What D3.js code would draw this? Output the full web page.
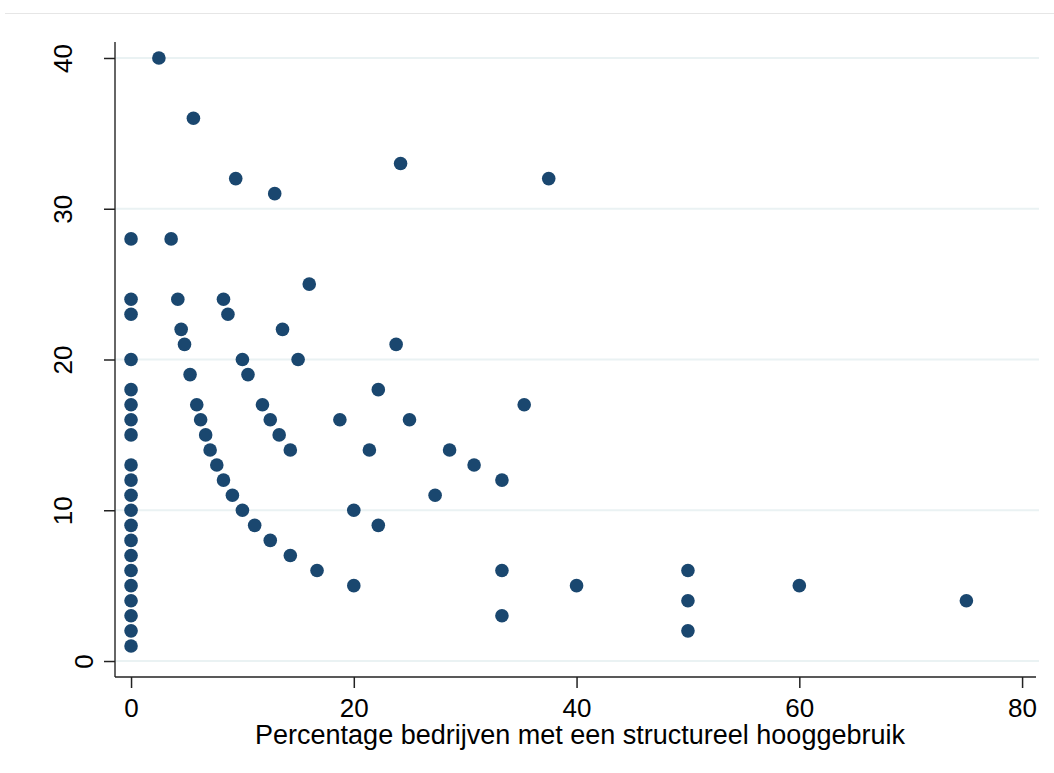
<!DOCTYPE html>
<html><head><meta charset="utf-8">
<script src="https://cdn.jsdelivr.net/npm/d3@7"></script>
<style>body{margin:0;background:#fff}svg{display:block}</style>
</head><body>
<script>
// Percentage of firms with structural high use (x) vs count (y)
const xValues = [
  0,0,0,0,0,0,0,0,0,0,0,0,0,0,0,0,0,0,0,0,0,
  2.5,5.6,9.4,12.9,24.2,37.5,3.6,16,4.2,8.3,8.7,4.5,13.6,4.8,23.8,10,15,5.3,10.5,22.2,
  5.9,11.8,35.3,6.25,12.5,18.75,25,6.7,13.3,7.1,14.3,21.4,28.6,7.7,30.8,8.3,33.3,9.1,27.3,
  10,20,11.1,22.2,12.5,14.3,16.7,33.3,50,20,40,60,33.3,50,75,50
];
const yValues = [
  1,2,3,4,5,6,7,8,9,10,11,12,13,15,16,17,18,20,23,24,28,
  40,36,32,31,33,32,28,25,24,24,23,22,22,21,21,20,20,19,19,18,
  17,17,17,16,16,16,16,15,15,14,14,14,14,13,13,12,12,11,11,
  10,10,9,9,8,7,6,6,6,5,5,5,3,4,4,2
];
const xTicks = [0,20,40,60,80];
const yTicks = [0,10,20,30,40];
const xTitle = "Percentage bedrijven met een structureel hooggebruik";

const W = 1054, H = 773;
const FONT = "Liberation Sans, Arial, sans-serif";
const svg = d3.select("body").append("svg").attr("width", W).attr("height", H);

const x = d3.scaleLinear().domain([-1.44, 81.25]).range([115, 1036]);
const y = d3.scaleLinear().domain([-1.06, 41.06]).range([677, 42]);

// faint title remnant (cut off at the top in the original) and top separator
svg.append("text").attr("x", 500).attr("y", -10).attr("font-family", FONT)
  .attr("font-size", 20).attr("font-style", "italic").attr("text-anchor", "middle").attr("fill", "#000").text("p");
svg.append("line").attr("x1", 5).attr("x2", W).attr("y1", 13.5).attr("y2", 13.5)
  .attr("stroke", "#e6e6e6").attr("stroke-width", 1);

// gridlines
svg.append("g").selectAll("line").data(yTicks).join("line")
  .attr("x1", 116).attr("x2", 1039)
  .attr("y1", d => y(d)).attr("y2", d => y(d))
  .attr("stroke", "#eaf2f3").attr("stroke-width", 2);

// axes
const yAxis = d3.axisLeft(y).tickValues(yTicks).tickSize(11);
const gy = svg.append("g").attr("transform", "translate(115,0)").call(yAxis);
gy.select(".domain").attr("d", `M0,42V677`).attr("stroke", "#333").attr("stroke-width", 1.5);
gy.selectAll(".tick line").attr("stroke", "#222").attr("stroke-width", 1.5);
gy.selectAll(".tick text")
  .attr("font-family", FONT).attr("font-size", 26).attr("fill", "#000")
  .attr("text-anchor", "middle").attr("dy", 0).attr("x", 0).attr("y", 0)
  .attr("transform", d => `translate(${d === 0 ? -22 : -43},0) rotate(-90)`);

const xAxis = d3.axisBottom(x).tickValues(xTicks).tickSize(11).tickPadding(11);
const gx = svg.append("g").attr("transform", "translate(0,677)").call(xAxis);
gx.select(".domain").attr("d", `M115,0H1036`).attr("stroke", "#222").attr("stroke-width", 1.5);
gx.selectAll(".tick line").attr("stroke", "#222").attr("stroke-width", 1.5);
gx.selectAll(".tick text")
  .attr("font-family", FONT).attr("font-size", 26).attr("fill", "#000");

svg.append("text").attr("x", 580).attr("y", 744).attr("text-anchor", "middle")
  .attr("font-family", FONT).attr("font-size", 27).attr("fill", "#000")
  .text(xTitle);

// points
const pts = xValues.map((v, i) => ({x: v, y: yValues[i]}));
svg.append("g").selectAll("circle").data(pts).join("circle")
  .attr("cx", d => x(d.x)).attr("cy", d => y(d.y)).attr("r", 6.8)
  .attr("fill", "#1a476f");
</script>
</body></html>
